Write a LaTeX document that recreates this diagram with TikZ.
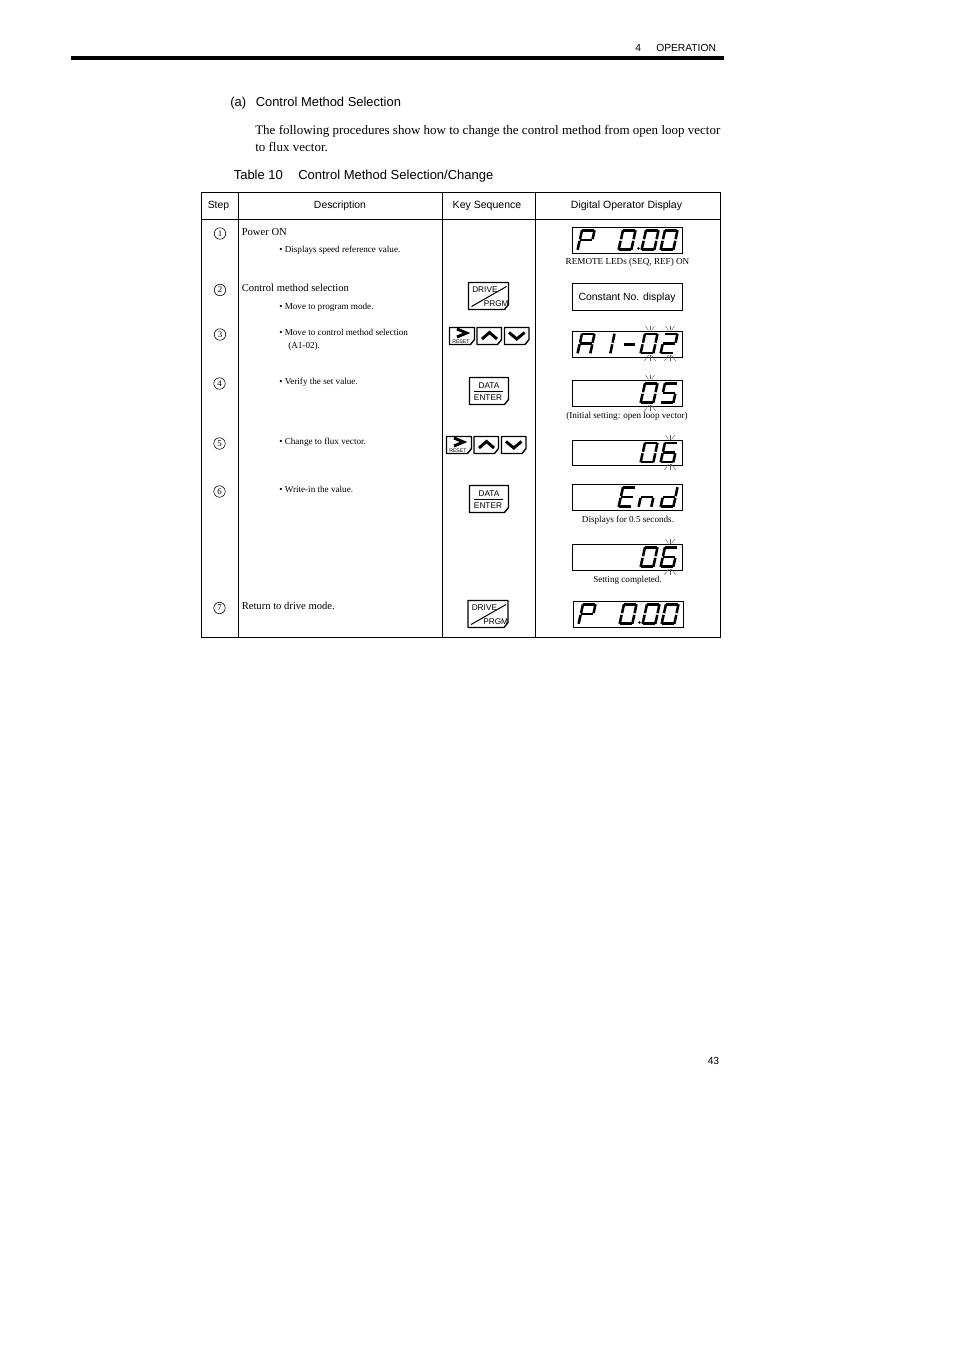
\documentclass[tikz,border=0pt]{standalone}
\usepackage{fontspec}
\setmainfont{Liberation Serif}
\newfontfamily\hv{Liberation Sans}
\tikzset{
 x=0.75pt,y=-0.75pt,
 sans/.style={anchor=base west,inner sep=0pt,font=\hv\fontsize{#1}{#1}\selectfont},
 sansc/.style={anchor=base,inner sep=0pt,font=\hv\fontsize{#1}{#1}\selectfont},
 serif/.style={anchor=base west,inner sep=0pt,font=\fontsize{#1}{#1}\selectfont},
 serifc/.style={anchor=base,inner sep=0pt,font=\fontsize{#1}{#1}\selectfont},
 grid/.style={line width=0.75pt,black},
 dispbox/.style={draw,line width=0.75pt,black},
 keyline/.style={draw,line width=1.05pt,black,line join=round},
 segline/.style={line width=1.9pt,black,line cap=butt},
 rayline/.style={line width=0.3pt,black!65},
 chev/.style={line width=2.2pt,black,line join=miter},
 stepmark/.style={circle,draw,line width=0.45pt,inner sep=0pt,minimum size=8.6pt,font=\fontsize{6.6}{6.6}\selectfont},
}
\newcommand\sega{\draw[segline] (5,0.5) -- (17.2,0.5);}
\newcommand\segb{\draw[segline] (17.5,0.2) -- (15.6,9.2);}
\newcommand\segc{\draw[segline] (15.3,10.8) -- (13.3,19.8);}
\newcommand\segd{\draw[segline] (0.8,19.6) -- (13,19.6);}
\newcommand\sege{\draw[segline] (0.6,19.8) -- (2.6,10.8);}
\newcommand\segf{\draw[segline] (3,9.2) -- (5,0.2);}
\newcommand\segg{\draw[segline] (3.4,10) -- (14.8,10);}
\newcommand\digit[3]{\begin{scope}[shift={(#1,#2)}]\foreach \s in {#3}{\csname seg\s\endcsname}\end{scope}}
\newcommand\blink[3]{%
 \foreach \d in {-3.5,0,3.5}{%
  \draw[rayline] (#1+\d*1.3,#2-5) -- (#1+\d*0.45,#2-0.5);
  \draw[rayline] (#1+\d*1.6,#3+5) -- (#1+\d*0.4,#3-1);}}
\newcommand\keybody[4]{\draw[keyline] (#1,#2) -- (#3,#2) -- (#3,#4-5) -- (#3-4,#4) -- (#1,#4) -- cycle;}
\newcommand\drivekey[3]{% name x y
 \keybody{#2}{#3}{#2+40}{#3+27}
 \draw[line width=0.75pt] (#2+3,#3+24) -- (#2+38,#3+4);
 \node[sans=6.2] (#1a) at (#2+3.5,#3+10) {DRIVE};
 \node[sans=6.2] (#1b) at (#2+15,#3+24) {PRGM};}
\newcommand\datakey[3]{% name x y
 \keybody{#2}{#3}{#2+39}{#3+27}
 \draw[line width=0.5pt] (#2+4.5,#3+13.5) -- (#2+33.5,#3+13.5);
 \node[sansc=6.2] (#1a) at (#2+19.5,#3+10.5) {DATA};
 \node[sansc=6.2] (#1b) at (#2+18.5,#3+22.5) {ENTER};}
\newcommand\navkeys[3]{% name x y
 \keybody{#2}{#3}{#2+25}{#3+17}
 \draw[chev] (#2+7.5,#3+1.5) -- (#2+17,#3+5.5) -- (#2+7.5,#3+9.5);
 \node[sans=3.9] (#1r) at (#2+2.5,#3+15.6) {RESET};
 \keybody{#2+27.5}{#3}{#2+52}{#3+17}
 \draw[chev] (#2+32.5,#3+11.5) -- (#2+40,#3+5) -- (#2+47.5,#3+11.5);
 \keybody{#2+55}{#3}{#2+79.5}{#3+17}
 \draw[chev] (#2+59.5,#3+5) -- (#2+67.3,#3+11.5) -- (#2+75,#3+5);}
\begin{document}
\begin{tikzpicture}
\useasboundingbox (0,0) rectangle (954,1351);
\fill[white] (0,0) rectangle (954,1351);
\node[sans=7.7] (hd4) at (635,52) {4};
\node[sans=7.7] (hdop) at (656,52) {OPERATION};
\fill[black] (71,56) rectangle (724,60.3);
\node[sans=9.7] (seca) at (230,107) {(a)};
\node[sans=9.7] (sect) at (255.5,107) {Control Method Selection};
\node[serif=9.76] (para1) at (255,135) {The following procedures show how to change the control method from open loop vector};
\node[serif=9.76] (para2) at (255,152) {to flux vector.};
\node[sans=9.75] (tabn) at (233.5,180) {Table 10};
\node[sans=9.75] (tabt) at (298,180) {Control Method Selection/Change};
\draw[grid] (201.5,192.5) rectangle (720.5,637.5);
\draw[grid] (201.5,219.5) -- (720.5,219.5);
\foreach \x in {238.5,442.5,535.5} \draw[grid] (\x,192.5) -- (\x,637.5);
\node[sansc=7.8] (h1) at (218.5,209) {Step};
\node[sansc=7.8] (h2) at (340,209) {Description};
\node[sansc=7.9] (h3) at (487,209) {Key Sequence};
\node[sansc=7.9] (h4) at (626.5,209) {Digital Operator Display};
\node[stepmark] (s1) at (220,233.5) {1};
\node[stepmark] (s2) at (220,290) {2};
\node[stepmark] (s3) at (220,334.5) {3};
\node[stepmark] (s4) at (219.5,383.5) {4};
\node[stepmark] (s5) at (219.5,443.5) {5};
\node[stepmark] (s6) at (219.5,491.5) {6};
\node[stepmark] (s7) at (219.5,608) {7};
\node[serif=7.95] (d1) at (241.5,235.5) {Power ON};
\node[serif=6.85] (d1b) at (279,253) {• Displays speed reference value.};
\node[serif=7.95] (d2) at (241.5,291.5) {Control method selection};
\node[serif=6.85] (d2b) at (279,310) {• Move to program mode.};
\node[serif=6.85] (d3b) at (279,336) {• Move to control method selection};
\node[serif=6.85] (d3c) at (288,349) {(A1-02).};
\node[serif=6.85] (d4b) at (279,384.5) {• Verify the set value.};
\node[serif=6.85] (d5b) at (279,444.5) {• Change to flux vector.};
\node[serif=6.85] (d6b) at (279,492.5) {• Write-in the value.};
\node[serif=7.95] (d7) at (241.5,609.5) {Return to drive mode.};
\drivekey{k2}{468.5}{282.5}
\navkeys{k3}{449.5}{327.5}
\datakey{k4}{469.5}{377.5}
\navkeys{k5}{446.5}{436.5}
\datakey{k6}{469.5}{485.5}
\drivekey{k7}{468}{600.5}
\draw[dispbox] (572.5,227.5) rectangle (682.5,254);
\digit{577}{230}{a,b,f,g,e}
\digit{618}{230}{a,b,c,d,e,f}
\digit{641}{230}{a,b,c,d,e,f}
\digit{660}{230}{a,b,c,d,e,f}
\fill (638.5,248.5) circle (1.3);
\node[serifc=6.85] (o1) at (627.5,265) {REMOTE LEDs (SEQ, REF) ON};
\node[dispbox,anchor=north west,minimum width=82.6pt,minimum height=20.2pt,inner sep=0pt,font=\hv\fontsize{7.8}{7.8}\selectfont] (o2) at (571.5,283.5) {Constant No. display};
\draw[dispbox] (572.5,331.5) rectangle (682.5,357.5);
\digit{577}{333.5}{a,b,c,e,f,g}
\digit{597}{333.5}{b,c}
\draw[line width=2.2pt] (624,344.5) -- (634.5,344.5);
\digit{640}{333.5}{a,b,c,d,e,f}
\digit{660}{333.5}{a,b,g,e,d}
\blink{650}{331}{356}\blink{670}{331}{356}
\draw[dispbox] (572.5,380.5) rectangle (682.5,406.5);
\digit{640}{383}{a,b,c,d,e,f}
\digit{660}{383}{a,f,g,c,d}
\blink{650}{380}{406}
\node[serifc=6.85] (o4) at (627,418) {(Initial setting: open loop vector)};
\draw[dispbox] (572.5,440.5) rectangle (682.5,465.5);
\digit{640}{442.5}{a,b,c,d,e,f}
\digit{660}{442.5}{a,c,d,e,f,g}
\blink{670}{440}{465}
\draw[dispbox] (572.5,484.5) rectangle (682.5,510.5);
\digit{618}{487}{a,f,g,e,d}
\digit{638}{487}{c,e,g}
\digit{660}{487}{b,c,d,e,g}
\node[serifc=6.85] (o6) at (628,522) {Displays for 0.5 seconds.};
\draw[dispbox] (572.5,544.5) rectangle (682.5,570.5);
\digit{640}{547}{a,b,c,d,e,f}
\digit{660}{547}{a,c,d,e,f,g}
\blink{670}{544}{570}
\node[serifc=6.85] (o7) at (627.5,582) {Setting completed.};
\draw[dispbox] (573.5,601.5) rectangle (683,627);
\digit{578}{604}{a,b,f,g,e}
\digit{619}{604}{a,b,c,d,e,f}
\digit{642}{604}{a,b,c,d,e,f}
\digit{661}{604}{a,b,c,d,e,f}
\fill (639.5,622.5) circle (1.3);
\node[sans=7.7] (pg) at (707.5,1064) {43};
\end{tikzpicture}
\end{document}
